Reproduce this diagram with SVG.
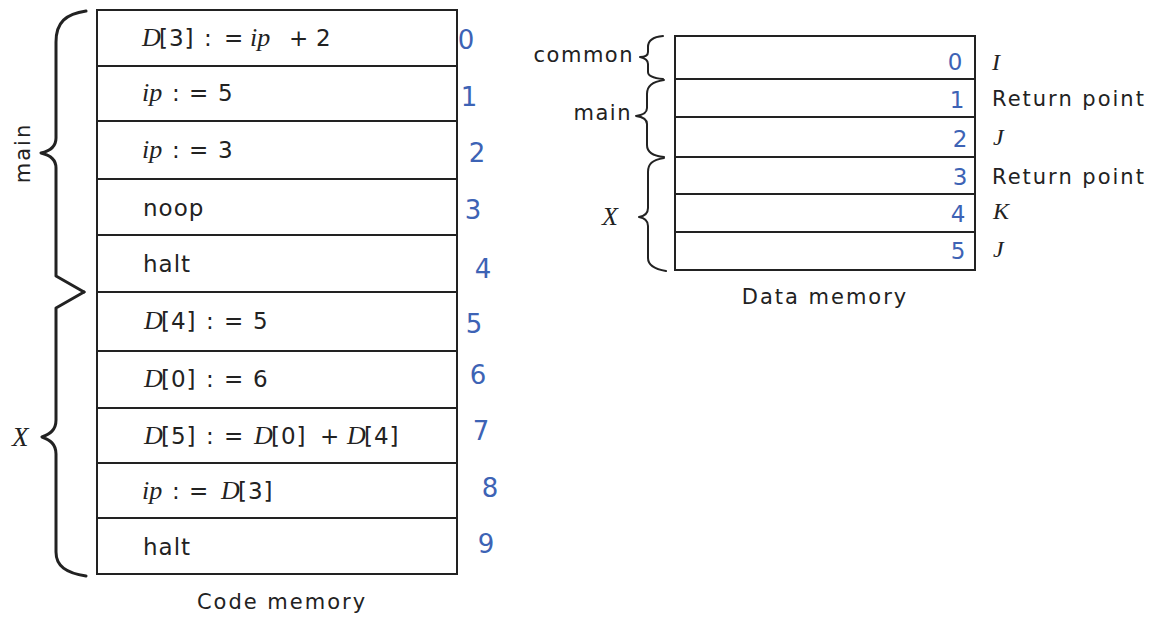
<svg xmlns="http://www.w3.org/2000/svg" width="1154" height="621" viewBox="0 0 1154 621">
<style>
.cell{fill:#fff;stroke:#222;stroke-width:2}
.s{font-family:"DejaVu Sans",sans-serif;font-size:23px;fill:#222;letter-spacing:1px}
.it{font-family:"Liberation Serif",serif;font-style:italic;font-size:26px;letter-spacing:0}
.lbl{font-family:"DejaVu Sans",sans-serif;font-size:21px;fill:#222;letter-spacing:2px}
.var{font-family:"Liberation Serif",serif;font-style:italic;font-size:24px;fill:#222}
.hand{font-family:"DejaVu Sans",sans-serif;font-size:26px;fill:#3d63b5;text-anchor:middle}
.hand2{font-family:"DejaVu Sans",sans-serif;font-size:23px;fill:#3d63b5;text-anchor:middle}
.brace{fill:none;stroke:#222;stroke-width:3;stroke-linejoin:round;stroke-linecap:round}
.brace2{fill:none;stroke:#222;stroke-width:2;stroke-linejoin:round;stroke-linecap:round}
</style>
<rect width="1154" height="621" fill="#fff"/>

<g id="code-memory">
<g id="code0"><rect class="cell" x="97" y="10" width="360" height="56"/>
<text class="s" y="46"><tspan class="it" x="142">D</tspan><tspan x="159">[3]</tspan><tspan x="204">:</tspan><tspan x="224">=</tspan><tspan class="it" x="250">ip</tspan><tspan x="289">+</tspan><tspan x="316">2</tspan></text></g>
<g id="code1"><rect class="cell" x="97" y="66" width="360" height="55"/>
<text class="s" y="101"><tspan class="it" x="142">ip</tspan><tspan x="172">:</tspan><tspan x="189">=</tspan><tspan x="218">5</tspan></text></g>
<g id="code2"><rect class="cell" x="97" y="121" width="360" height="58"/>
<text class="s" y="158"><tspan class="it" x="142">ip</tspan><tspan x="172">:</tspan><tspan x="189">=</tspan><tspan x="218">3</tspan></text></g>
<g id="code3"><rect class="cell" x="97" y="179" width="360" height="56"/>
<text class="s" x="143" y="216">noop</text></g>
<g id="code4"><rect class="cell" x="97" y="235" width="360" height="57"/>
<text class="s" x="143" y="272">halt</text></g>
<g id="code5"><rect class="cell" x="97" y="292" width="360" height="59"/>
<text class="s" y="329"><tspan class="it" x="144">D</tspan><tspan x="161">[4]</tspan><tspan x="206">:</tspan><tspan x="224">=</tspan><tspan x="253">5</tspan></text></g>
<g id="code6"><rect class="cell" x="97" y="351" width="360" height="57"/>
<text class="s" y="387"><tspan class="it" x="144">D</tspan><tspan x="161">[0]</tspan><tspan x="206">:</tspan><tspan x="224">=</tspan><tspan x="253">6</tspan></text></g>
<g id="code7"><rect class="cell" x="97" y="408" width="360" height="55"/>
<text class="s" y="444"><tspan class="it" x="144">D</tspan><tspan x="161">[5]</tspan><tspan x="206">:</tspan><tspan x="224">=</tspan><tspan class="it" x="254">D</tspan><tspan x="271">[0]</tspan><tspan x="320">+</tspan><tspan class="it" x="347">D</tspan><tspan x="364">[4]</tspan></text></g>
<g id="code8"><rect class="cell" x="97" y="463" width="360" height="55"/>
<text class="s" y="499"><tspan class="it" x="142">ip</tspan><tspan x="172">:</tspan><tspan x="189">=</tspan><tspan class="it" x="221">D</tspan><tspan x="238">[3]</tspan></text></g>
<g id="code9"><rect class="cell" x="97" y="518" width="360" height="56"/>
<text class="s" x="143" y="555">halt</text></g>
</g>

<g id="code-addresses">
<text class="hand" x="466" y="49">0</text>
<text class="hand" x="469" y="106">1</text>
<text class="hand" x="477" y="162">2</text>
<text class="hand" x="473" y="219">3</text>
<text class="hand" x="483" y="278">4</text>
<text class="hand" x="474" y="333">5</text>
<text class="hand" x="478" y="384">6</text>
<text class="hand" x="481" y="440">7</text>
<text class="hand" x="490" y="497">8</text>
<text class="hand" x="486" y="553">9</text>
</g>

<g id="code-braces">
<path class="brace" d="M86,11 C66,14 56,22 56,42 L56,138 C56,147 50,151 41,153 C50,155 56,159 56,168 L56,276 L84,292"/>
<path class="brace" d="M84,292 L56,308 L56,420 C56,430 50,434 42,437 C50,440 56,444 56,454 L56,552 C56,566 66,573 86,576"/>
<text class="lbl" transform="translate(30,153) rotate(-90)" text-anchor="middle">main</text>
<text class="var" x="12" y="446" style="font-size:27px">X</text>
</g>

<text class="lbl" x="282" y="609" text-anchor="middle">Code memory</text>

<g id="data-memory">
<g id="data0"><rect class="cell" x="675" y="36" width="300" height="43"/><text class="hand2" x="955" y="70">0</text><text class="var" x="992" y="70">I</text></g>
<g id="data1"><rect class="cell" x="675" y="79" width="300" height="38"/><text class="hand2" x="957" y="108">1</text><text class="lbl" x="992" y="106">Return point</text></g>
<g id="data2"><rect class="cell" x="675" y="117" width="300" height="40"/><text class="hand2" x="960" y="147">2</text><text class="var" x="993" y="145">J</text></g>
<g id="data3"><rect class="cell" x="675" y="157" width="300" height="37"/><text class="hand2" x="960" y="185">3</text><text class="lbl" x="992" y="184">Return point</text></g>
<g id="data4"><rect class="cell" x="675" y="194" width="300" height="38"/><text class="hand2" x="958" y="222">4</text><text class="var" x="993" y="219">K</text></g>
<g id="data5"><rect class="cell" x="675" y="232" width="300" height="38"/><text class="hand2" x="958" y="259">5</text><text class="var" x="993" y="257">J</text></g>
</g>

<g id="data-braces">
<path class="brace2" d="M663,36 C652,37 648,41 648,47 L648,52 C648,55 645,57 640,57 C645,58 648,60 648,64 L648,72 C648,76 652,78 663,79"/>
<path class="brace2" d="M664,80 C652,82 647,86 647,94 L647,108 C647,112 644,115 636,116 C644,117 647,120 647,124 L647,145 C647,152 652,156 664,157"/>
<path class="brace2" d="M664,158 C652,160 648,164 648,172 L648,208 C648,213 645,216 639,217 C645,218 648,221 648,226 L648,258 C648,265 654,269 666,271"/>
<text class="lbl" x="634" y="62" text-anchor="end" style="letter-spacing:1.5px">common</text>
<text class="lbl" x="632" y="120" text-anchor="end" style="letter-spacing:1.5px">main</text>
<text class="var" x="602" y="225" style="font-size:26px">X</text>
</g>

<text class="lbl" x="825" y="304" text-anchor="middle">Data memory</text>
</svg>
